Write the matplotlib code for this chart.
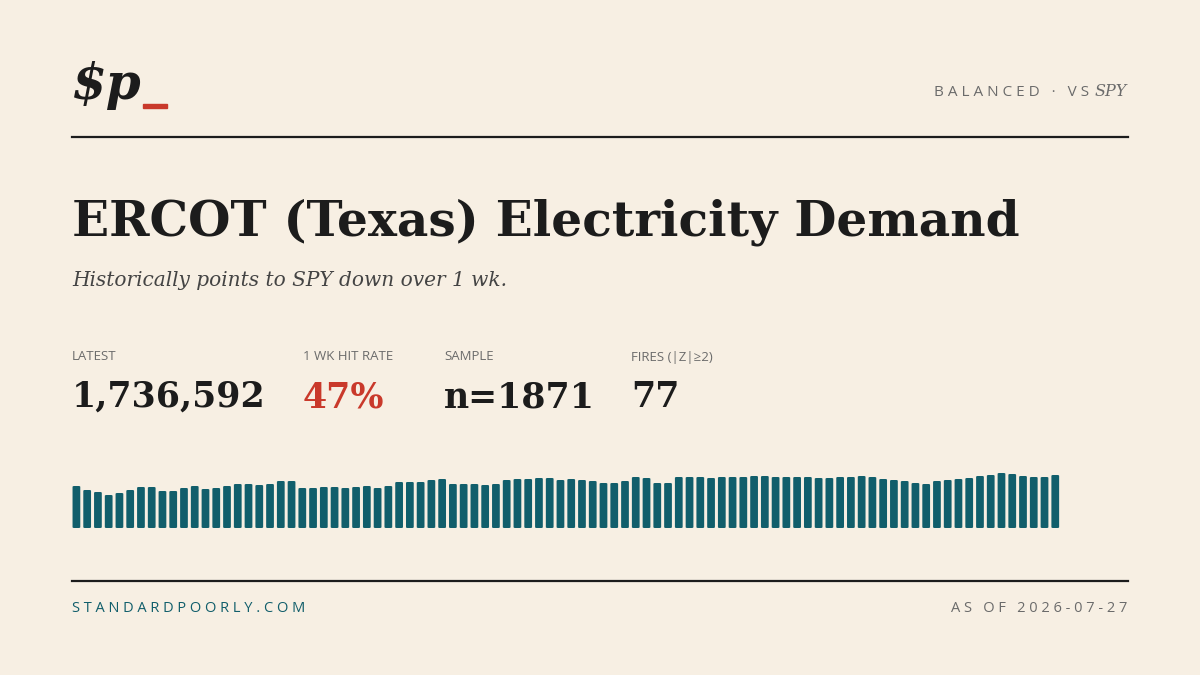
import matplotlib.pyplot as plt
from matplotlib.patches import FancyBboxPatch

# bar heights read off the sparkline (pixels above the baseline, roughly)
heights = [42, 38, 36, 33, 35, 38, 41, 41, 37, 37, 40, 42, 39, 40, 42, 44, 44, 43, 44, 47,
           47, 40, 40, 41, 41, 40, 41, 42, 40, 42, 46, 46, 46, 48, 49, 44, 44, 44, 43, 44,
           48, 49, 49, 50, 50, 48, 49, 48, 47, 45, 45, 47, 51, 50, 45, 45, 51, 51, 51, 50,
           51, 51, 51, 52, 52, 51, 51, 51, 51, 50, 50, 51, 51, 52, 51, 49, 48, 47, 45, 44,
           47, 48, 49, 50, 52, 53, 55, 54, 52, 51, 51, 53]

title = "ERCOT (Texas) Electricity Demand"
subtitle = "Historically points to SPY down over 1 wk."
stat_labels = ["LATEST", "1 WK HIT RATE", "SAMPLE", "FIRES (|Z|≥2)"]
stat_values = ["1,736,592", "47%", "n=1871", "77"]
stat_x = [72, 303, 444, 631]

BG = "#f7efe3"
INK = "#1c1c1c"
TEAL = "#115e6b"
RED = "#c9392b"
GREY = "#6b6b6b"

W, H = 1200, 675
fig = plt.figure(figsize=(12, 6.75), dpi=100, facecolor=BG)

def px(x, y):
    return x / W, 1 - y / H

def txt(x, y, s, **kw):
    fig.text(*px(x, y), s, **kw)

serif = ["DejaVu Serif"]
sans = ["Open Sans", "DejaVu Sans"]

# header
txt(72, 85, "$p", fontsize=36, fontweight="bold", style="italic", family=serif,
    color=INK, va="center")
fig.patches.append(plt.Rectangle(px(143, 108), 24 / W, 4 / H, transform=fig.transFigure,
                                 color=RED))
txt(1127, 92, "SPY", fontsize=11.5, style="italic", family=serif, color=GREY,
    ha="right", va="center")
txt(1089, 92, "B A L A N C E D   ·   V S", fontsize=11, family=sans, color=GREY,
    ha="right", va="center")
for yy in (137, 581):
    fig.add_artist(plt.Line2D([72 / W, 1128 / W], [1 - yy / H] * 2, color=INK, lw=1.6))

txt(72, 222, title, fontsize=35, fontweight="bold", family=serif, color=INK, va="center")
txt(72, 281, subtitle, fontsize=14.5, style="italic", family=serif, color="#444444",
    va="center")

for x, lab, val in zip(stat_x, stat_labels, stat_values):
    txt(x, 357, lab, fontsize=9.5, family=sans, color=GREY, va="center")
    txt(x, 397, val, fontsize=25, fontweight="bold", family=serif,
        color=RED if val.endswith("%") else INK, va="center")

# sparkline
ax = fig.add_axes([72 / W, 1 - 528 / H, (1060 - 72) / W, (528 - 468) / H])
ax.set_facecolor(BG)
n = len(heights)
ax.set_xlim(-0.05, n - 0.2)
ax.set_ylim(0, 60)
for i, h in enumerate(heights):
    ax.add_patch(FancyBboxPatch((i, 0), 0.72, h, boxstyle="round,pad=0,rounding_size=0.15",
                                mutation_aspect=6, color=TEAL, lw=0))
ax.axis("off")

txt(72, 608, "S T A N D A R D P O O R L Y . C O M", fontsize=10.5, family=sans,
    color=TEAL, va="center")
txt(1127, 608, "A S   O F   2 0 2 6 - 0 7 - 2 7", fontsize=10.5, family=sans, color=GREY,
    ha="right", va="center")

fig.savefig("out.png", dpi=100, facecolor=BG)
